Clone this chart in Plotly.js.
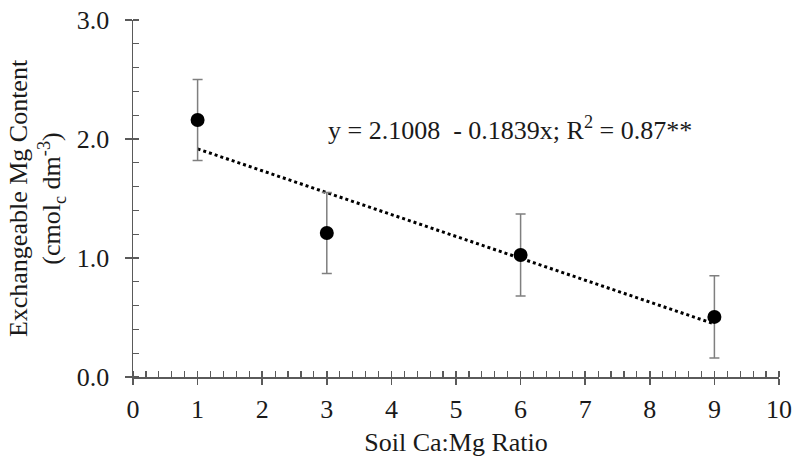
<!DOCTYPE html>
<html>
<head>
<meta charset="utf-8">
<script src="https://cdn.plot.ly/plotly-3.0.1.min.js"></script>
<style>
  html, body { margin: 0; padding: 0; background: #fff; }
  #chart { width: 798px; height: 461px; }
</style>
</head>
<body>
<div id="chart"></div>
<script>
// Soil Ca:Mg ratio vs exchangeable Mg (means with error bars)
const caMgRatio = [1, 3, 6, 9];
const exchMg = [2.16, 1.21, 1.025, 0.505];
const exchMgErr = [0.34, 0.34, 0.345, 0.345];

// Fitted linear regression
const fitIntercept = 2.1008;
const fitSlope = -0.1839;
const fitR2 = 0.87;
const fitX = [1, 9];
const fitY = fitX.map(x => fitIntercept + fitSlope * x);

const xTicks = [0, 1, 2, 3, 4, 5, 6, 7, 8, 9, 10];
const yTicks = [0, 1, 2, 3];
const yTickText = ['0.0', '1.0', '2.0', '3.0'];

const FONT = '"Liberation Serif", "Times New Roman", serif';
const AXIS = '#5a5a5a';
const TXT = '#1a1a1a';
const FS = 26;

const eqText = 'y = ' + fitIntercept.toFixed(4) + '  - ' + Math.abs(fitSlope).toFixed(4) +
  'x; R<sup>2</sup> = ' + fitR2.toFixed(2) + '**';

const traces = [
  {
    x: fitX, y: fitY, type: 'scatter', mode: 'lines',
    line: { color: '#000', width: 3, dash: 'dot' },
    hoverinfo: 'skip', showlegend: false
  },
  {
    x: caMgRatio, y: exchMg, type: 'scatter', mode: 'markers',
    marker: { color: '#000', size: 14 },
    error_y: { type: 'data', array: exchMgErr, visible: true, color: '#7f7f7f', thickness: 1.5, width: 5 },
    showlegend: false
  },
  // carrier for the tick overlay axes
  { x: [0], y: [0], xaxis: 'x2', yaxis: 'y2', mode: 'markers', marker: { opacity: 0 }, hoverinfo: 'skip', showlegend: false }
];

const layout = {
  width: 798, height: 461,
  margin: { l: 133, r: 19, t: 20, b: 84 },
  paper_bgcolor: '#fff', plot_bgcolor: '#fff',
  font: { family: FONT, size: FS, color: TXT },
  xaxis: {
    range: [0, 10], tickvals: xTicks, ticktext: xTicks.map(String),
    showgrid: false, zeroline: false,
    showline: true, linecolor: AXIS, linewidth: 1.5,
    ticks: 'outside', ticklen: 6, tickwidth: 1.5, tickcolor: AXIS,
    minor: { dtick: 0.2, tick0: 0, ticks: 'inside', ticklen: 6, tickwidth: 1.2, tickcolor: AXIS },
    tickfont: { family: FONT, size: FS, color: TXT },
    ticklabelstandoff: 2,
    title: { text: 'Soil Ca:Mg Ratio', font: { family: FONT, size: FS, color: TXT }, standoff: 10 },
    fixedrange: true
  },
  yaxis: {
    range: [0, 3], tickvals: yTicks, ticktext: yTickText,
    showgrid: false, zeroline: false,
    showline: true, linecolor: AXIS, linewidth: 1.5,
    ticks: 'outside', ticklen: 7, tickwidth: 1.5, tickcolor: AXIS,
    minor: { dtick: 0.2, tick0: 0, ticks: 'inside', ticklen: 6, tickwidth: 1.2, tickcolor: AXIS },
    tickfont: { family: FONT, size: FS, color: TXT },
    ticklabelstandoff: 10,
    title: { text: 'Exchangeable Mg Content<br>(cmol<sub>c</sub> dm<sup>-3</sup>)', font: { family: FONT, size: FS, color: TXT }, standoff: 8 },
    fixedrange: true
  },
  // inner halves of the crossing major ticks
  xaxis2: {
    overlaying: 'x', range: [0, 10], tickvals: xTicks, showticklabels: false,
    showgrid: false, zeroline: false, showline: false,
    ticks: 'inside', ticklen: 6, tickwidth: 1.5, tickcolor: AXIS, fixedrange: true
  },
  yaxis2: {
    overlaying: 'y', range: [0, 3], tickvals: yTicks, showticklabels: false,
    showgrid: false, zeroline: false, showline: false,
    ticks: 'inside', ticklen: 5, tickwidth: 1.5, tickcolor: AXIS, fixedrange: true
  },
  annotations: [
    {
      x: 5.84, y: 2.09, xref: 'x', yref: 'y', text: eqText, showarrow: false,
      font: { family: FONT, size: FS, color: TXT }, xanchor: 'center', yanchor: 'middle'
    }
  ]
};

Plotly.newPlot('chart', traces, layout, { displayModeBar: false, staticPlot: true });
</script>
</body>
</html>
